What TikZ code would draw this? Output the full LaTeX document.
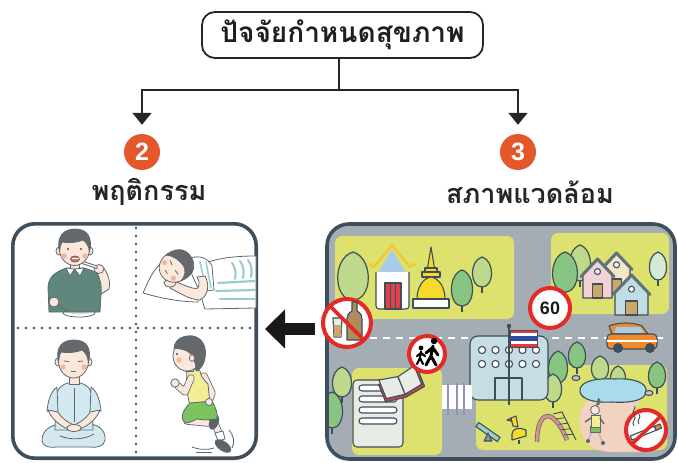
\documentclass[tikz,border=0pt]{standalone}
\usepackage{fontspec}
\newfontfamily\thaifont[Script=Thai]{Loma}
\newfontfamily\numfont{Liberation Sans}
\usetikzlibrary{arrows.meta,calc}

\definecolor{ink}{HTML}{3E4E5A}
\definecolor{numorange}{HTML}{E4572A}
\definecolor{mapgray}{HTML}{A4ACB4}
\definecolor{lawn}{HTML}{DDE26E}
\definecolor{treeA}{HTML}{BFD98C}
\definecolor{treeB}{HTML}{88C583}
\definecolor{treeC}{HTML}{D4E9D6}
\definecolor{signred}{HTML}{E42A26}
\definecolor{roofblue}{HTML}{A9CBE8}
\definecolor{gold}{HTML}{F5C632}
\definecolor{stupa}{HTML}{F7D928}
\definecolor{doorred}{HTML}{E0424A}
\definecolor{school}{HTML}{C6DDE3}
\definecolor{pond}{HTML}{A9DCEA}
\definecolor{peach}{HTML}{F2D3C2}
\definecolor{carorange}{HTML}{F08A2E}
\definecolor{paper}{HTML}{E8ECE4}
\definecolor{bookred}{HTML}{C4474A}
\definecolor{wallpink}{HTML}{F2D2D6}
\definecolor{wallcream}{HTML}{F2E6C6}
\definecolor{wallblue}{HTML}{BFDDE3}
\definecolor{rooftone}{HTML}{62707A}
\definecolor{doortan}{HTML}{CDA66A}
\definecolor{skin}{HTML}{FCE8DB}
\definecolor{hair}{HTML}{66696B}
\definecolor{cheek}{HTML}{F6B4A1}
\definecolor{mouthred}{HTML}{E8704E}
\definecolor{shirtgreen}{HTML}{5F877D}
\definecolor{lightblue}{HTML}{D4E8EF}
\definecolor{tankyellow}{HTML}{F3EE95}
\definecolor{shorts}{HTML}{7DC25D}
\definecolor{teal}{HTML}{9CCDCB}
\definecolor{shoe}{HTML}{5C6468}
\definecolor{ricegreen}{HTML}{CFE3C8}
\definecolor{flagred}{HTML}{E03A3A}
\definecolor{flagblue}{HTML}{2E4DA0}
\definecolor{crossline}{HTML}{8E95C4}

\tikzset{
  titlebox/.style={draw=black!85, line width=1.8pt, rounded corners=13pt,
    minimum width=281pt, minimum height=46pt, inner sep=0pt,
    font=\thaifont\bfseries\fontsize{28}{30}\selectfont, text=black!88},
  branch/.style={draw=black!85, line width=1.6pt, -{Triangle[width=19pt,length=12pt]}},
  numdisc/.style={circle, fill=numorange, minimum size=36pt, inner sep=0pt,
    text=white, font=\numfont\bfseries\fontsize{25}{25}\selectfont},
  headlabel/.style={font=\thaifont\bfseries\fontsize{27}{29}\selectfont, text=black!85},
  panel/.style={draw=ink, line width=3.6pt, rounded corners=22pt},
  dots/.style={draw=ink, line width=2.6pt, line cap=round, dash pattern=on 0pt off 8pt},
  bigarrow/.style={draw=black!90, line width=12pt, -{Triangle[width=38pt,length=20pt]}},
  outl/.style={draw=ink, line width=1.1pt, line join=round},
  treeline/.style={draw=ink, line width=1.2pt, line join=round},
  person/.style={draw=ink!85, line width=0.8pt, line join=round},
  ring/.style={draw=signred, fill=white, line width=4pt},
  slash/.style={draw=signred, line width=3.6pt},
  stripe/.style={draw=teal, line width=2.2pt, line cap=round},
}

% tree: x, centre y, x radius, y radius, colour
\newcommand\maptree[5]{%
  \draw[treeline] (#1,#2) -- (#1,{#2+#4+6});
  \draw[treeline, fill=#5] (#1,{#2-#4}) .. controls ({#1+#3*1.3},{#2-#4*0.75}) and ({#1+#3*1.25},{#2+#4}) .. (#1,{#2+#4})
     .. controls ({#1-#3*1.25},{#2+#4}) and ({#1-#3*1.3},{#2-#4*0.75}) .. (#1,{#2-#4}) -- cycle;}

% house: left x, apex y, width, bottom y, wall colour
\newcommand\maphouse[5]{%
  \draw[outl, fill=#5] (#1,#4) -- (#1,{#2+#3*0.5}) -- ({#1+#3/2},#2) -- ({#1+#3},{#2+#3*0.5}) -- ({#1+#3},#4) -- cycle;
  \draw[draw=rooftone, line width=3pt, line cap=round, line join=round]
     ({#1-2},{#2+#3*0.5+2}) -- ({#1+#3/2},{#2-1}) -- ({#1+#3+2},{#2+#3*0.5+2});
  \draw[outl, fill=white] ({#1+#3/2},{#2+#3*0.4}) circle[radius=3];
  \draw[outl, fill=doortan] ({#1+#3*0.33},{#4-14}) rectangle ({#1+#3*0.67},#4);}

% limb drawn as an outlined thick stroke: path, colour
\newcommand\limb[2]{%
  \draw[ink!85, line width=7.4pt, line cap=round, line join=round] #1;
  \draw[#2, line width=5.8pt, line cap=round, line join=round] #1;}

\begin{document}
\begin{tikzpicture}[x=1pt,y=-1pt]
\useasboundingbox (0,0) rectangle (678,463);

% ---------------- heading and branches ----------------
\node[titlebox] (title) at (342.5,35) {ปัจจัยกำหนดสุขภาพ};
\coordinate (split) at (339,90);
\node[numdisc] (n2) at (142,152) {2};
\node[numdisc] (n3) at (518,152) {3};
\node[headlabel] (l2) at (149,192) {พฤติกรรม};
\node[headlabel] (l3) at (530,192) {สภาพแวดล้อม};
\draw[draw=black!85, line width=1.6pt] (split |- title.south) -- (split);
\draw[branch, shorten >=9pt] (split) -| (n2.north);
\draw[branch, shorten >=9pt] (split) -| (n3.north);

% ---------------- behaviour panel ----------------
\coordinate (lp) at (257,329);
\draw[panel] (12.8,223.8) rectangle (256.2,458.2);
\draw[dots] (136,228) -- (136,455);
\draw[dots] (18,328) -- (253,328);

% boy brushing his teeth
\draw[person, fill=white] (79,313) ellipse[x radius=16, y radius=4];
\fill[ricegreen] (79,311.5) ellipse[x radius=11, y radius=2.8];
\draw[person, fill=shirtgreen] (49,312) -- (48,288) .. controls (48,276) and (57,271) .. (67,268) -- (83,268)
   .. controls (94,270) and (104,275) .. (107,290) -- (101,294) -- (100,312) -- cycle;
\draw[person, fill=skin] (101,294) -- (109,289) .. controls (111,282) and (108,274) .. (104,268) -- (96,271)
   .. controls (100,278) and (102,285) .. (101,294) -- cycle;
\draw[person, fill=skin] (99,269) ellipse[x radius=5, y radius=4.5];
\draw[person, fill=white] (97,266) -- (82,261) -- (82,263.5) -- (97,268.5) -- cycle;
\draw[person] (57,304) -- (68,312);
\draw[person, fill=skin] (54,302) ellipse[x radius=5, y radius=5];
\draw[person, fill=skin] (70,261) rectangle (79,270);
\draw[person, fill=white] (66,268) -- (74.5,269) -- (70,276) -- cycle;
\draw[person, fill=white] (74.5,269) -- (84,268) -- (80,276) -- cycle;
\draw[person, fill=skin] (59,251) ellipse[x radius=3, y radius=4];
\draw[person, fill=skin] (90,251) ellipse[x radius=3, y radius=4];
\draw[person, fill=skin] (74.5,249) ellipse[x radius=15, y radius=16.5];
\draw[person, fill=hair] (59.5,252) .. controls (56,236) and (64,229) .. (75,229) .. controls (87,229) and (93,237) .. (89.5,252)
   .. controls (89,246) and (86,242) .. (83,240) .. controls (76,243) and (68,243) .. (62,242)
   .. controls (60,245) and (60,248) .. (59.5,252) -- cycle;
\fill[ink] (68,249) circle[radius=1.1] (81,249) circle[radius=1.1];
\fill[cheek] (64,256) circle[radius=2.8] (85,256) circle[radius=2.8];
\draw[person, fill=mouthred] (75,259) ellipse[x radius=4.5, y radius=3];
\fill[white] (71.5,257.5) rectangle (78.5,259.3);

% boy sleeping
\draw[person, fill=white] (143,293) .. controls (148,282) and (152,272) .. (160,264) -- (200,270) -- (198,302)
   .. controls (180,302) and (160,298) .. (143,293) -- cycle;
\draw[person, fill=white] (198,266) .. controls (215,258) and (235,256) .. (256,256) -- (256,308) -- (205,309)
   .. controls (200,295) and (197,280) .. (198,266) -- cycle;
\draw[stripe] (218,283) -- (255,281);
\draw[stripe] (216,291) -- (255,290);
\draw[stripe] (220,299) -- (255,299);
\draw[stripe] (232,263) .. controls (236,268) and (236,274) .. (235,279);
\draw[stripe] (240,261) .. controls (244,266) and (244,272) .. (243,278);
\draw[stripe] (248,260) .. controls (252,265) and (252,271) .. (251,277);
\draw[person, fill=white] (190,258) .. controls (200,255) and (208,258) .. (212,266) -- (214,290) -- (200,292) -- (192,275) -- cycle;
\draw[stripe, line width=1.6pt] (200,262) -- (206,288);
\draw[stripe, line width=1.6pt] (206,262) -- (211,288);
\draw[person, fill=skin] (205,276) .. controls (210,285) and (208,296) .. (200,300) .. controls (190,300) and (178,292) .. (170,288)
   -- (174,281) .. controls (184,285) and (194,290) .. (198,288) .. controls (200,284) and (199,280) .. (197,277) -- cycle;
\draw[person, fill=skin] (170,283) ellipse[x radius=6, y radius=4];
\begin{scope}[shift={(175,267)}, rotate=-60]
  \draw[person, fill=skin] (0,0) ellipse[x radius=15, y radius=16];
  \draw[person, fill=hair] (-15,2) .. controls (-17,-14) and (-8,-19) .. (0,-19) .. controls (10,-19) and (17,-12) .. (15,2)
     .. controls (13,-5) and (8,-8) .. (3,-8) .. controls (-4,-7) and (-10,-5) .. (-15,2) -- cycle;
  \draw[person] (-8,1) -- (-3,1.5) (3,1.5) -- (8,1);
  \fill[cheek] (-9,7) circle[radius=2.6] (9,7) circle[radius=2.6];
  \draw[person] (-2,10) -- (2,10);
\end{scope}

% boy meditating
\draw[person, fill=lightblue] (42,440) .. controls (42,430) and (52,424) .. (62,424) -- (88,424)
   .. controls (100,424) and (106,432) .. (105,440) .. controls (104,446) and (98,448) .. (90,447) -- (57,447)
   .. controls (48,448) and (42,446) .. (42,440) -- cycle;
\draw[person] (60,436) .. controls (70,440) and (84,440) .. (94,434);
\draw[person, fill=lightblue] (55,430) -- (56,396) .. controls (57,388) and (63,384) .. (68,383) -- (80,383)
   .. controls (86,384) and (91,388) .. (92,396) -- (93,430) -- cycle;
\draw[person, fill=lightblue] (57,387) .. controls (50,392) and (48,402) .. (47,411) -- (58,413) -- cycle;
\draw[person, fill=lightblue] (91,387) .. controls (98,392) and (100,402) .. (101,411) -- (90,413) -- cycle;
\draw[person, fill=skin] (48,410) .. controls (52,420) and (62,428) .. (72,430) -- (74,425) .. controls (66,422) and (60,416) .. (58,412) -- cycle;
\draw[person, fill=skin] (100,410) .. controls (96,420) and (86,428) .. (76,430) -- (74,425) .. controls (82,422) and (88,416) .. (90,412) -- cycle;
\draw[person, fill=skin] (74,428) ellipse[x radius=7, y radius=3.5];
\draw[person] (74,388) -- (74,422);
\draw[person, fill=skin] (69,375) rectangle (79,384);
\draw[person, fill=skin] (58,362) ellipse[x radius=3, y radius=4];
\draw[person, fill=skin] (89,362) ellipse[x radius=3, y radius=4];
\draw[person, fill=skin] (73.5,361) ellipse[x radius=15, y radius=17];
\draw[person, fill=hair] (58.5,363) .. controls (55,346) and (63,340) .. (74,340) .. controls (86,340) and (92,347) .. (88.5,363)
   .. controls (88,356) and (85,352) .. (82,350) .. controls (75,353) and (67,353) .. (61,352)
   .. controls (59,355) and (59,359) .. (58.5,363) -- cycle;
\draw[person] (64,361) -- (69,361.5) (78,361.5) -- (83,361);
\fill[cheek] (63,367) circle[radius=2.7] (84,367) circle[radius=2.7];
\draw[person] (71,371) -- (76,371);

% boy running
\draw[person] (192,447) .. controls (200,450) and (208,450) .. (214,448);
\draw[person] (196,452) -- (212,452);
\draw[person] (229,430) .. controls (234,436) and (235,442) .. (232,448);
\limb{(211,414) -- (220,436)}{skin}
\draw[person, fill=white] (215,433) -- (223,431) -- (225,439) -- (218,441) -- cycle;
\draw[person, fill=shoe, rotate around={-35:(223,446)}] (223,446) ellipse[x radius=9, y radius=4.5];
\limb{(204,376) -- (212,393) -- (209,401)}{skin}
\limb{(187,421) -- (208,423)}{skin}
\draw[person, fill=shoe, rotate around={70:(214,422)}] (214,422) ellipse[x radius=7.5, y radius=4.2];
\draw[person, fill=tankyellow] (187,370) .. controls (192,368) and (197,369) .. (200,371) .. controls (201,378) and (206,382) .. (208,384)
   -- (210,404) -- (190,406) .. controls (187,395) and (186,382) .. (187,370) -- cycle;
\draw[person, fill=shorts] (190,403) -- (212,401) .. controls (216,408) and (218,414) .. (217,419) -- (205,420) -- (197,419)
   .. controls (193,421) and (189,423) .. (185,423) .. controls (180,419) and (182,411) .. (190,403) -- cycle;
\draw[person, fill=skin] (209,402) circle[radius=3.6];
\limb{(191,378) -- (185,392) -- (178,386)}{skin}
\draw[person, fill=skin] (175,383) circle[radius=4.2];
\draw[person, fill=skin] (185,363) rectangle (193,371);
\draw[person, fill=skin] (187,356) ellipse[x radius=14, y radius=15];
\draw[person, fill=hair] (174,348) .. controls (175,338) and (185,335) .. (193,336) .. controls (203,338) and (207,348) .. (205,358)
   .. controls (204,365) and (200,370) .. (196,371) .. controls (196,364) and (194,358) .. (191,354)
   .. controls (186,349) and (180,349) .. (174,348) -- cycle;
\draw[person, fill=skin] (192,358) ellipse[x radius=2.6, y radius=3.4];
\fill[ink] (177,354) circle[radius=1.1];
\fill[cheek] (179,360) circle[radius=2.6];

% ---------------- environment panel ----------------
\coordinate (rp) at (315,329);
\begin{scope}
  \path[clip, rounded corners=22pt] (327,224) rectangle (675,459);
  \fill[mapgray] (325,222) rectangle (677,461);
  \fill[lawn, rounded corners=7pt] (335,236) rectangle (514,319);
  \fill[lawn, rounded corners=7pt] (551,233) rectangle (669,314);
  \fill[lawn, rounded corners=7pt] (352,368) rectangle (442,455);
  \fill[lawn, rounded corners=7pt] (476,365) rectangle (667,450);
  \draw[white, line width=2pt, dash pattern=on 7pt off 6pt] (370,338) -- (665,338);

  % trees in the temple grounds
  \maptree{353}{276}{16}{24}{treeA}
  \maptree{482}{272}{10}{15}{treeA}
  \maptree{462}{288}{11}{18}{treeB}

  % temple hall
  \fill[roofblue] (378,273) -- (392,249) -- (406,273) -- cycle;
  \draw[draw=gold, line width=2.4pt, line cap=round, line join=round] (370,264) -- (374,267) -- (392,245) -- (410,267) -- (415,264);
  \draw[outl, fill=white, rounded corners=3pt] (376,272) -- (376,309) -- (409,309) -- (409,272);
  \draw[outl, fill=doorred] (385,283) rectangle (401,309);
  \draw[ink, line width=0.8pt] (390.3,283) -- (390.3,309) (395.6,283) -- (395.6,309);

  % stupa
  \draw[outl, fill=stupa] (431,247) -- (434.5,268) -- (427.5,268) -- cycle;
  \draw[outl, fill=stupa] (425,268) rectangle (437,272);
  \draw[outl, fill=stupa] (422,272) rectangle (440,277);
  \draw[outl, fill=stupa] (417,299) .. controls (417,286) and (424,278) .. (431,277) .. controls (438,278) and (445,286) .. (445,299) -- cycle;
  \draw[outl, fill=white] (413,299) rectangle (449,308);

  % village
  \maptree{580}{263}{11}{18}{treeA}
  \maptree{565}{272}{13}{20}{treeB}
  \maptree{658}{266}{9}{14}{treeC}
  \maphouse{603}{254}{27}{293}{wallcream}
  \maphouse{583}{260}{29}{298}{wallpink}
  \maphouse{615}{276}{33}{315}{wallblue}

  % trees by the road and in the park
  \maptree{342}{382}{10}{15}{treeA}
  \maptree{332}{410}{11}{18}{treeB}
  \maptree{577}{355}{9}{13}{treeB}
  \maptree{558}{367}{10}{16}{treeB}
  \maptree{553}{388}{9}{14}{treeA}
  \maptree{600}{368}{9}{12}{treeA}
  \maptree{618}{378}{8}{12}{treeA}
  \maptree{657}{375}{9}{13}{treeB}

  % park path and pond
  \fill[peach] (592,398) .. controls (578,405) and (576,425) .. (585,440) .. controls (590,448) and (600,452) .. (612,452)
     -- (640,452) .. controls (630,440) and (628,420) .. (640,400) -- cycle;
  \draw[outl, fill=pond] (580,392) .. controls (578,380) and (600,378) .. (615,379) .. controls (632,378) and (648,382) .. (646,392)
     .. controls (645,402) and (625,403) .. (612,402) .. controls (596,403) and (582,400) .. (580,392) -- cycle;
  \draw[outl, fill=mapgray!70] (576,378) ellipse[x radius=4, y radius=2.5];
  \draw[outl, fill=mapgray!70] (649,393) ellipse[x radius=4, y radius=2.5];

  % school
  \draw[outl, fill=school, rounded corners=8pt] (470,400) rectangle (548,336);
  \foreach \wy in {350,364}
    \foreach \wx in {482,495.5,509,522.5,536}
      \draw[outl, fill=white] (\wx,\wy) circle[radius=3.6];
  \draw[outl] (495,400) -- (495,378) -- (522,378) -- (522,400);
  \draw[outl] (508.5,378) -- (508.5,400);
  \draw[ink, line width=2.4pt] (509,327) -- (509,405);
  \fill[ink] (509,326) circle[radius=2.2];
  \fill[flagred] (510,330) rectangle (537,347);
  \fill[white] (510,332.8) rectangle (537,344.2);
  \fill[flagblue] (510,335.6) rectangle (537,341.4);
  \draw[ink, line width=0.6pt] (510,330) rectangle (537,347);

  % pedestrian crossing
  \fill[white] (442,385) rectangle (472,409);
  \draw[crossline, line width=2.6pt] (448,383) -- (448,415) (457,383) -- (457,415) (464,383) -- (464,415);

  % car
  \draw[outl, fill=carorange] (609,326) .. controls (620,322) and (632,322) .. (642,326) -- (648,334) -- (612,334) -- cycle;
  \fill[roofblue] (616,327) -- (640,327) -- (644,333) -- (614,333) -- cycle;
  \draw[outl, fill=carorange, rounded corners=4pt] (607,334) rectangle (657,349);
  \draw[white, line width=1.6pt] (607,341) -- (657,341);
  \fill[ink] (618,348) circle[radius=5] (650,348) circle[radius=5];

  % documents and open book
  \draw[outl, fill=paper, rounded corners=4pt] (353,380) rectangle (403,447);
  \foreach \by in {385,396,407,418}
    \draw[outl, fill=white, rounded corners=3pt] (359,\by) rectangle (397,\by+6);
  \begin{scope}[shift={(401,384)}, rotate=22]
    \draw[outl, fill=bookred] (-21,-8) -- (0,-5) -- (21,-8) -- (21,11) -- (0,14) -- (-21,11) -- cycle;
    \draw[outl, fill=paper] (-19,-12) -- (0,-8) -- (0,11) -- (-19,8) -- cycle;
    \draw[outl, fill=paper] (19,-12) -- (0,-8) -- (0,11) -- (19,8) -- cycle;
  \end{scope}

  % playground
  \begin{scope}[shift={(488,432)}, rotate=-35]
    \draw[outl, fill=teal] (-13,-2.5) rectangle (13,2.5);
  \end{scope}
  \draw[outl, fill=ink!60] (484,441) -- (488,433) -- (492,441) -- cycle;
  \draw[outl, fill=stupa] (512,440) -- (512,434) .. controls (512,428) and (520,427) .. (526,430) -- (526,436) -- cycle;
  \draw[outl, fill=stupa] (513,426) -- (511,418) -- (516,416) -- (518,427) -- cycle;
  \draw[outl, fill=gold] (511,418) -- (507,420) -- (511,421) -- cycle;
  \draw[outl] (519,440) -- (519,444);
  \draw[ink!85, line width=4.4pt] (537,442) .. controls (537,412) and (552,404) .. (567,440);
  \draw[bookred!60, line width=2.8pt] (537,442) .. controls (537,412) and (552,404) .. (567,440);
  \draw[ink, line width=1pt] (553,414) -- (562,412) -- (576,440);
  \foreach \k in {0.2,0.4,0.6,0.8}
    \draw[ink, line width=0.8pt] ($(553,414)!\k!(567,440)$) -- ($(562,412)!\k!(576,440)$);

  % small runner on the park path
  \draw[person, line width=1.6pt, skin!70!ink] (593,430) -- (588,440) (598,430) -- (602,442);
  \fill[shoe] (588,441) circle[radius=2] (603,443) circle[radius=2];
  \draw[person, fill=shorts] (590,426) rectangle (600,432);
  \draw[person, fill=tankyellow] (591,415) rectangle (600,427);
  \draw[person, line width=1.4pt] (591,418) -- (585,422) (600,418) -- (604,424);
  \draw[person, fill=skin] (595,410) circle[radius=4.5];
  \fill[hair] (596,406) arc[start angle=90, end angle=-60, radius=4.5] -- cycle;
\end{scope}
\draw[panel] (327,224) rectangle (675,459);

% signs
\node[circle, minimum size=48pt, inner sep=0pt] (nodrink) at (347,323) {};
\draw[ring] (347,323) circle[radius=24];
\draw[outl, fill=paper] (333,318) -- (342,318) -- (341,337) -- (334,337) -- cycle;
\fill[doortan] (333.6,325) -- (341.5,325) -- (341,336.5) -- (334,336.5) -- cycle;
\draw[outl, fill=doortan!85!black] (352,302) -- (357,302) -- (357,311) .. controls (361,313) and (362,316) .. (362,319) -- (362,340)
   -- (347,340) -- (347,319) .. controls (347,316) and (348,313) .. (352,311) -- cycle;
\draw[slash] (330,306) -- (364,340);

\node[circle, minimum size=40pt, inner sep=0pt] (speed) at (550,308) {};
\draw[ring] (550,308) circle[radius=20];
\node[font=\numfont\bfseries\fontsize{18}{18}\selectfont, text=black!90] at (speed.center) {60};

\node[circle, minimum size=36pt, inner sep=0pt] (kids) at (427,354) {};
\draw[ring] (427,354) circle[radius=18];
\fill[black] (434,341) circle[radius=3.2] (421,348) circle[radius=2.4];
\draw[black, line width=3pt, line cap=round] (433,346) -- (431,356) (431,356) -- (426,365) (431,356) -- (436,365)
   (433,348) -- (438,355) (432,348) -- (426,353);
\draw[black, line width=2.2pt, line cap=round] (421,351.5) -- (420,358) (420,358) -- (417,364) (420,358) -- (423,364)
   (421,353) -- (425,356) (421,353) -- (417,356);

\node[circle, minimum size=40pt, inner sep=0pt] (nosmoke) at (646,430) {};
\draw[ring] (646,430) circle[radius=20];
\begin{scope}[shift={(646,432)}, rotate=22]
  \draw[outl, fill=white] (-16,-2.2) rectangle (10,2.2);
  \draw[outl, fill=carorange] (10,-2.2) rectangle (16,2.2);
\end{scope}
\draw[ink, line width=0.9pt] (634,426) .. controls (630,422) and (638,419) .. (634,414) .. controls (631,411) and (636,409) .. (635,406);
\draw[ink, line width=0.9pt] (639,424) .. controls (636,420) and (642,418) .. (639,414);
\draw[slash] (661,416) -- (631,445);

% arrow from environment to behaviour
\draw[bigarrow, shorten >=8pt] (rp) -- (lp);
\end{tikzpicture}
\end{document}
